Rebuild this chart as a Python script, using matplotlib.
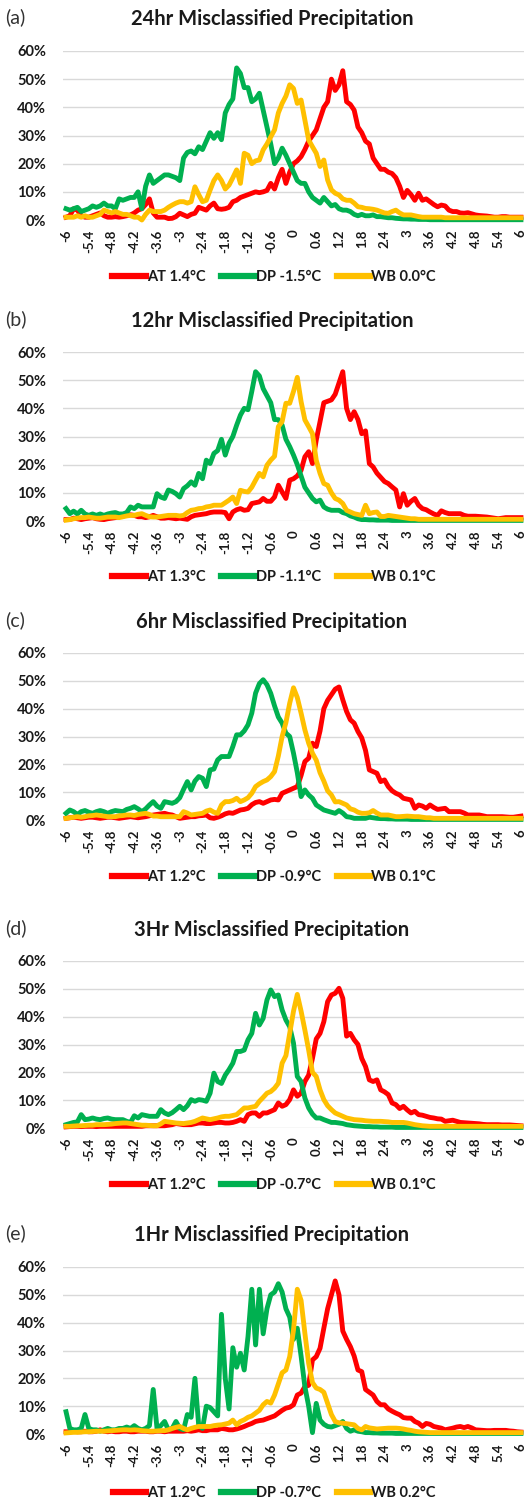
import matplotlib.pyplot as plt
import numpy as np
from matplotlib.lines import Line2D

plt.rcParams['font.family'] = ['Lato', 'DejaVu Sans']

# temperature error bins (deg C), one every 0.1 from -6 to 6
temps = np.round(np.arange(-60, 61) / 10, 1)
tick_vals = [-6, -5.4, -4.8, -4.2, -3.6, -3, -2.4, -1.8, -1.2, -0.6, 0,
             0.6, 1.2, 1.8, 2.4, 3, 3.6, 4.2, 4.8, 5.4, 6]
tick_labels = ['-6', '-5.4', '-4.8', '-4.2', '-3.6', '-3', '-2.4', '-1.8', '-1.2', '-0.6', '0',
               '0.6', '1.2', '1.8', '2.4', '3', '3.6', '4.2', '4.8', '5.4', '6']

panel_tags = ['(a)', '(b)', '(c)', '(d)', '(e)']
titles = ['24hr Misclassified Precipitation', '12hr Misclassified Precipitation',
          '6hr Misclassified Precipitation', '3Hr Misclassified Precipitation',
          '1Hr Misclassified Precipitation']
at_labels = ['AT 1.4°C', 'AT 1.3°C', 'AT 1.2°C', 'AT 1.2°C', 'AT 1.2°C']
dp_labels = ['DP -1.5°C', 'DP -1.1°C', 'DP -0.9°C', 'DP -0.7°C', 'DP -0.7°C']
wb_labels = ['WB 0.0°C', 'WB 0.1°C', 'WB 0.1°C', 'WB 0.1°C', 'WB 0.2°C']

# ---- (a) 24hr ----
at_24 = [1, 1.5, 4, 3.5, 1.5, 1, 1, 1.5, 2, 2.5,
         1.5, 1, 1, 1.2, 1, 1.2, 1.5, 1.8, 2.5, 3.5,
         4, 5.5, 7.5, 2.5, 1, 1, 1, 0.5, 0.6, 1.2,
         2.4, 1.8, 1.2, 2, 2.4, 4.5, 4, 3.5, 5, 6,
         4, 3.8, 4, 4.5, 6.5, 7, 8, 8.5, 9, 9.5,
         10, 9.7, 10, 10.5, 13, 11, 15, 18, 13, 17,
         20, 21, 22.5, 25, 28, 30, 32, 36, 40, 42,
         50, 46, 48, 53, 42, 41, 39, 33, 31, 28,
         27, 22, 20, 18, 18, 17, 16.5, 15, 12, 8,
         10.5, 9, 7, 9.5, 7, 7.5, 6.5, 5.5, 4.7, 5.3,
         5, 3.5, 3, 3, 2.5, 2.4, 2.6, 2.2, 1.8, 1.6,
         1.5, 1.4, 1.2, 1, 1, 1.2, 1.2, 1, 1, 1, 1]
dp_24 = [4, 3.5, 4, 4.5, 3, 3.5, 4, 5, 4.5, 5,
         6, 5, 5, 4, 7.5, 7, 7.5, 8, 8, 10,
         4, 12, 16, 13, 14, 15, 16, 16, 15.5, 15,
         14, 22, 24, 24.5, 23.5, 26, 25, 28, 31, 29,
         31, 28.5, 38, 41, 43, 54, 52, 47, 47, 42,
         43, 45, 39, 33, 27, 20, 22, 25.5, 23, 20,
         17, 14, 13, 13, 10, 8, 7, 6, 8, 6.5,
         5, 5.5, 4, 3.5, 3.5, 3, 2, 1.5, 2, 1.5,
         1.5, 1.8, 1.2, 1.2, 1, 0.8, 0.8, 0.6, 0.5, 0.4,
         0.4, 0.3, 0.3, 0.2, 0.2, 0.2, 0.1, 0.1, 0.1, 0.1,
         0.1, 0.1, 0.1, 0.1, 0.1, 0.1, 0.1, 0.1, 0.1, 0.1,
         0.1, 0.1, 0.1, 0.1, 0.1, 0.1, 0.1, 0.1, 0.1, 0.1, 0.1]
wb_24 = [1, 1, 1, 1.5, 1, 1.5, 1, 1, 1.5, 2,
         3.5, 3, 2.5, 3, 2.5, 2, 2, 1.5, 1, 1,
         0, 2, 3.5, 3, 3, 3, 3.5, 4.5, 5.3, 6,
         6.5, 6.5, 6, 6.5, 11.8, 9, 6.5, 7, 10.6, 14,
         16, 14, 11, 12.4, 15, 17.8, 13, 23.7, 23, 20,
         21, 21.3, 24.9, 27, 29.5, 32, 38, 41.4, 44, 48,
         46.7, 41.4, 42.6, 35.5, 28.4, 26, 23.7, 19, 21.3, 14.2,
         10.7, 9.5, 8.9, 7.5, 7, 7, 6, 4.7, 4.5, 4.1,
         4, 3.8, 3.5, 3, 2.5, 2.4, 3, 3.5, 2.5, 1.8,
         1.8, 1.8, 1.5, 1.2, 1, 1, 1, 1, 1, 1,
         0.8, 0.8, 0.8, 0.8, 0.8, 0.8, 0.8, 0.8, 0.8, 0.8,
         0.8, 0.8, 0.8, 0.8, 0.8, 0.8, 0.8, 0.8, 0.8, 0.8, 0.8]

# ---- (b) 12hr ----
at_12 = [0.5, 0.5, 1, 0.8, 0.5, 0.8, 1, 1.2, 0.8, 0.6,
         0.5, 0.8, 1, 1.2, 1.5, 1.8, 2, 2.2, 2, 1.5,
         1.5, 1.2, 1.5, 2, 1.5, 1, 1, 1.2, 1, 0.8,
         1, 0.8, 0.6, 1.5, 2, 2.2, 2.4, 2.6, 3, 3.2,
         3.2, 3.2, 3, 0.8, 3.2, 4, 4.4, 3.8, 4, 6.2,
         6.5, 6.8, 8, 7, 7, 8.5, 12.7, 10.3, 8, 14.5,
         15, 16, 18, 22.8, 24.6, 20.4, 28.7, 35.3, 42, 42.5,
         43, 45, 49, 53, 40, 36, 38.8, 36, 31, 32,
         20.4, 19.2, 17, 15.5, 14, 13.3, 12.1, 11, 5, 9.7,
         5.6, 7, 8, 5.6, 4.4, 4, 3.2, 2.5, 2, 3.6,
         3, 2.6, 2.6, 2.6, 2.6, 2, 1.7, 1.7, 1.7, 1.6,
         1.5, 1.4, 1.2, 1, 0.8, 1, 1.2, 1.2, 1.2, 1.2, 1.2]
dp_12 = [4.4, 2.6, 3.5, 2.5, 3.8, 2.5, 2, 2.5, 2, 2.5,
         2, 2.5, 2.8, 3, 2.5, 2.5, 3, 5, 4.4, 5.6,
         5, 5, 5, 5, 9.7, 8.5, 8, 11, 10.5, 9.7,
         8.5, 11.5, 12.5, 13.9, 12.7, 16.9, 15, 21.6, 20.4, 24,
         25, 29, 23.4, 27.6, 30, 34, 37.6, 40, 39.5, 46,
         53, 51.5, 47, 44.5, 42, 36, 36, 34, 29, 26.4,
         23.4, 20, 16, 12, 10, 8, 6.8, 7.4, 5, 4.2,
         3.8, 3.8, 3.8, 3, 2.6, 1.8, 1.4, 0.8, 0.5, 0.5,
         0.4, 0.4, 0.3, 0.3, 0.3, 0.3, 0.2, 0.2, 0.2, 0.2,
         0.2, 0.2, 0.2, 0.2, 0.2, 0.2, 0.2, 0.2, 0.2, 0.2,
         0.2, 0.2, 0.2, 0.2, 0.2, 0.2, 0.2, 0.2, 0.2, 0.2,
         0.2, 0.2, 0.2, 0.2, 0.2, 0.2, 0.2, 0.2, 0.2, 0.2, 0.2]
wb_12 = [0.3, 0.5, 0.8, 1, 1.2, 1.2, 1.4, 1.2, 1, 1,
         1.2, 1.4, 1.4, 1.4, 1.2, 1.5, 1.8, 2, 2, 2.4,
         2.6, 2, 1.5, 1.4, 1.4, 1.6, 1.8, 2, 2, 2,
         1.8, 2, 3, 3.8, 4, 4.4, 4.5, 5, 5.2, 5.6,
         5.6, 5.6, 6.5, 7.4, 8.5, 6.2, 10.9, 10.5, 10.3, 12,
         14.5, 16.9, 15.7, 19.8, 21.6, 23, 33.5, 35.3, 41.8, 41.8,
         46, 51, 42.4, 35.9, 33.5, 31, 21.6, 16.9, 13.3, 12.7,
         10, 8, 7.4, 6.2, 3.8, 3.2, 2.6, 2.3, 2, 5.6,
         2.6, 3, 3.2, 1.6, 1.6, 2, 1.8, 1.6, 1.4, 1.2,
         1, 0.8, 0.8, 0.6, 0.6, 0.6, 0.6, 0.6, 0.6, 0.6,
         0.6, 0.6, 0.6, 0.6, 0.6, 0.6, 0.6, 0.6, 0.6, 0.6,
         0.6, 0.6, 0.6, 0.6, 0.6, 0.6, 0.6, 0.6, 0.6, 0.6, 0.6]

# ---- (c) 6hr ----
at_6 = [0.6, 0.8, 1, 0.8, 0.6, 0.8, 1, 1, 0.8, 0.6,
        0.8, 1, 1, 0.8, 0.6, 0.8, 1, 1.2, 1, 0.8,
        1, 1.2, 1.5, 1.8, 2, 2.2, 2.4, 2, 1.8, 1.2,
        0.6, 0.8, 1, 1.2, 1.2, 1.5, 1.6, 1.8, 0.8, 0.6,
        1, 1.5, 2.2, 2.6, 2.4, 3, 3.6, 3.8, 4.2, 5.5,
        6.3, 6.6, 6, 6.6, 7.2, 7.4, 7.2, 9.6, 10.2, 10.8,
        11.4, 12, 16, 21, 22.2, 27.6, 26.4, 32, 40, 43,
        45, 47, 47.8, 43.2, 39, 36, 34.8, 31.8, 29.5, 25,
        18, 17.4, 16.8, 13.8, 14.4, 12, 10.5, 9.6, 9, 7.8,
        7.5, 7.2, 4.2, 5.4, 5, 4.2, 5.4, 4.5, 3.8, 4,
        4.2, 3, 3, 3, 3, 2.5, 1.8, 1.8, 1.8, 1.8,
        1.5, 1.2, 1.2, 1.2, 1.2, 1.2, 1.1, 1, 1, 1.2, 1.4]
dp_6 = [2.4, 3.6, 3, 2, 3, 3.4, 2.8, 2.4, 3, 3.4,
        3, 2.4, 3, 3.4, 3.2, 3, 3.8, 4.2, 4.8, 4,
        3, 4, 5.4, 6.6, 5, 4.2, 6.6, 6.3, 6, 6.6,
        8, 11, 13.8, 10.8, 14, 15.6, 15, 12, 18, 18.3,
        21.6, 22.8, 22.8, 22.8, 26.4, 30.6, 30.6, 32, 34.2, 38.4,
        45.6, 49, 50.4, 48.6, 45.5, 41, 37, 34.8, 31.2, 30,
        24, 17, 8.4, 10.8, 9, 7.8, 5.4, 4.5, 3.6, 3.2,
        2.8, 2.4, 3.4, 2.5, 1.2, 1, 0.6, 0.6, 0.6, 0.6,
        1, 0.8, 0.6, 0.5, 0.5, 0.4, 0.4, 0.3, 0.3, 0.3,
        0.3, 0.2, 0.2, 0.2, 0.2, 0.2, 0.2, 0.2, 0.2, 0.2,
        0.2, 0.2, 0.2, 0.2, 0.2, 0.2, 0.2, 0.2, 0.2, 0.2,
        0.2, 0.2, 0.2, 0.2, 0.2, 0.2, 0.2, 0.2, 0.2, 0.2, 0.2]
wb_6 = [0.6, 0.8, 1, 1.2, 1, 1.2, 1.5, 1.6, 1.8, 1.6,
        1.4, 1.2, 1.2, 1.2, 1.5, 1.6, 1.8, 1.8, 1.6, 2,
        2.2, 2.4, 2, 1.4, 1.4, 1.2, 1.2, 1.2, 1.2, 1.2,
        1.2, 3, 2.5, 1.8, 2, 2.2, 2.4, 3.2, 3.6, 2.8,
        2.4, 5.4, 6.6, 6.6, 7, 7.8, 6.6, 7.2, 8, 9.6,
        12, 13, 13.8, 14.4, 15.6, 17.4, 23, 30, 35, 42,
        47.5, 44, 38.4, 32.4, 27.6, 24, 21.5, 17, 14, 10.5,
        9, 6.5, 6.6, 6, 5.4, 4, 3.6, 2.8, 2.4, 2.4,
        2.6, 3.4, 2.5, 1.8, 1.8, 1.8, 1.5, 1.2, 1.2, 1.3,
        1.4, 1.3, 1.2, 1.2, 1, 0.8, 0.8, 0.6, 0.6, 0.6,
        0.6, 0.6, 0.6, 0.6, 0.6, 0.6, 0.6, 0.6, 0.6, 0.6,
        0.6, 0.6, 0.6, 0.6, 0.6, 0.6, 0.6, 0.6, 0.6, 0.6, 0.6]

# ---- (d) 3hr ----
at_3 = [0.4, 0.5, 0.6, 0.6, 0.5, 0.6, 0.6, 0.6, 0.5, 0.6,
        0.6, 0.6, 0.6, 0.6, 0.6, 0.6, 0.6, 0.6, 0.6, 0.6,
        0.6, 0.8, 0.8, 0.8, 0.8, 0.8, 0.8, 1, 1.2, 1.6,
        1.4, 1.2, 1.2, 1.2, 1.5, 1.8, 1.8, 1.6, 1.6, 1.8,
        2, 2, 1.8, 1.8, 2, 2.4, 3, 2.4, 4.8, 5.4,
        5.4, 4.2, 5.4, 5.4, 6, 6.6, 9, 7.8, 8.4, 10.2,
        13.7, 11.4, 12.5, 16.7, 19, 25, 32, 34, 38.2, 45.4,
        47.8, 48.4, 50.2, 46.6, 33, 34, 31.7, 30, 25, 22.1,
        17.3, 16.7, 17.3, 13.7, 13, 12, 9, 8.4, 7, 7.8,
        6.5, 5.4, 6, 4.8, 4.6, 4.2, 3.8, 3.6, 3.3, 3.2,
        2.4, 2.6, 2.8, 2.4, 2, 1.9, 1.8, 1.7, 1.6, 1.5,
        1.3, 1.2, 1.2, 1.2, 1.2, 1.1, 1.1, 1.1, 1, 0.9, 0.8]
dp_3 = [1.2, 1.6, 2, 2.2, 4.8, 3, 3.2, 3.6, 3.2, 3,
        3.4, 3.6, 3.2, 3, 3, 3, 2.4, 2, 4.4, 3.6,
        4.8, 4.5, 4.2, 4.2, 4.2, 6.6, 5.4, 4.8, 5.5, 6.6,
        7.8, 6.6, 8, 10.2, 9.6, 10.2, 10, 9.6, 12.5, 19.7,
        16.7, 16, 19, 21, 23.3, 27.5, 27.5, 28, 31.7, 34,
        41.2, 37, 39.4, 46, 49.6, 47.2, 47.8, 42.4, 38.8, 36.4,
        30.5, 18.5, 16.7, 10.8, 7.2, 5, 3.6, 3.6, 3, 2.5,
        2, 2, 1.8, 1.6, 1.2, 1, 0.8, 0.7, 0.6, 0.5,
        0.5, 0.4, 0.4, 0.3, 0.3, 0.3, 0.3, 0.2, 0.2, 0.2,
        0.2, 0.2, 0.2, 0.2, 0.2, 0.2, 0.2, 0.2, 0.2, 0.2,
        0.2, 0.2, 0.2, 0.2, 0.2, 0.2, 0.2, 0.2, 0.2, 0.2,
        0.2, 0.2, 0.2, 0.2, 0.2, 0.2, 0.2, 0.2, 0.2, 0.2, 0.2]
wb_3 = [0.6, 0.6, 0.7, 0.8, 0.8, 0.9, 1, 1, 1.2, 1.2,
        1.2, 1.3, 1.4, 1.6, 1.7, 1.8, 1.8, 1.6, 1.4, 1.2,
        1, 1, 0.9, 0.8, 0.8, 1.5, 2.4, 2.2, 2, 1.8,
        1.7, 1.6, 1.8, 2, 2.4, 3, 3.6, 3.3, 3, 3.3,
        3.6, 4, 4.2, 4.2, 4.5, 4.8, 6, 7.2, 7.2, 7.5,
        7.8, 9.6, 11, 12.5, 13.1, 14.3, 16.1, 23.3, 26, 34,
        42, 48, 42, 35.2, 28, 20, 18.5, 13.7, 10.2, 8,
        6.6, 5.4, 4.8, 4.2, 3.6, 3.3, 3, 2.9, 2.8, 2.6,
        2.5, 2.4, 2.4, 2.4, 2.3, 2.2, 2, 2, 2, 2,
        1.8, 1.5, 1.2, 1, 0.8, 0.7, 0.6, 0.6, 0.6, 0.6,
        0.6, 0.6, 0.6, 0.6, 0.6, 0.6, 0.6, 0.6, 0.6, 0.6,
        0.6, 0.6, 0.6, 0.6, 0.6, 0.6, 0.6, 0.6, 0.6, 0.6, 0.6]

# ---- (e) 1hr ----
at_1 = [0.8, 0.8, 1, 0.8, 0.8, 1, 0.8, 0.8, 1, 1.5,
        1, 0.8, 1, 0.8, 0.8, 1, 1, 0.8, 0.8, 1,
        1, 1, 0.8, 0.8, 1, 1, 0.8, 1, 1, 1,
        1, 1, 1.2, 1, 1.2, 1.5, 1.2, 1.2, 1.5, 1.5,
        1.5, 2, 1.8, 1.5, 1.5, 1.8, 2.2, 2.7, 3.3, 3.8,
        4.5, 4.8, 5, 5.5, 6, 6.5, 7.5, 8.5, 9.3, 9.6,
        10.5, 14, 14.7, 17, 17.5, 26.6, 27.8, 30.8, 38, 45,
        50, 55, 50, 37, 34, 31.4, 28, 23, 22.4, 16,
        15, 14, 11.7, 10.5, 10.5, 9, 8.2, 7.5, 6.9, 5.9,
        5.7, 5.7, 4.5, 3.9, 2.7, 3.8, 3.5, 2.7, 2.4, 2.1,
        1.5, 1.8, 2.1, 2.5, 2.7, 2.3, 2.7, 2.2, 1.5, 1.4,
        1.3, 1.2, 1.2, 1.3, 1.3, 1.3, 1.3, 1.1, 1, 0.8, 0.7]
dp_1 = [8, 2, 1.5, 1.5, 2, 7, 2, 1.5, 1.5, 1,
        1.5, 2, 1.5, 1.5, 2, 2, 2.5, 2, 3, 2,
        1.5, 2, 3, 16, 2, 3, 4.5, 1.5, 2, 4.5,
        2, 1.5, 7, 6, 20, 3, 2, 10, 9.5, 8,
        6.5, 43, 20, 9, 31, 24, 29, 23, 35, 52,
        32, 52, 36, 45, 50, 51, 54, 51, 45, 42,
        34, 38, 28, 17, 10, 0.5, 11, 5, 3.5, 2.7,
        2.5, 3, 3.5, 4.5, 2, 1, 1.5, 1, 0.8, 0.5,
        0.5, 0.4, 0.4, 0.3, 0.3, 0.3, 0.3, 0.2, 0.2, 0.2,
        0.2, 0.2, 0.2, 0.2, 0.2, 0.2, 0.2, 0.2, 0.2, 0.2,
        0.2, 0.2, 0.2, 0.2, 0.2, 0.2, 0.2, 0.2, 0.2, 0.2,
        0.2, 0.2, 0.2, 0.2, 0.2, 0.2, 0.2, 0.2, 0.2, 0.2, 0.2]
wb_1 = [0.4, 0.5, 0.6, 0.6, 0.7, 0.8, 0.8, 0.9, 1, 1,
        1, 1.1, 1.2, 1.3, 1.4, 1.5, 1.5, 1.4, 1.5, 1.4,
        1.2, 1.1, 1, 1, 1.1, 1.2, 1.2, 1.5, 2, 2.4,
        2.7, 2, 1.5, 2, 2.4, 2.7, 2.7, 2.7, 2.7, 3,
        3.2, 3.3, 3.6, 3.9, 5, 3.3, 4.5, 5.1, 6, 6.5,
        7.5, 8.5, 10.5, 11.7, 11.1, 14, 18, 22, 23, 27.8,
        37.4, 52, 48, 36.2, 25.4, 18.5, 16.5, 16, 15, 11,
        7, 4.5, 4, 3.9, 3.7, 3.5, 3.3, 2, 1.5, 2.7,
        2.2, 2, 1.8, 1.9, 2, 2.1, 2.1, 2.1, 2, 1.8,
        1.5, 1.3, 1, 0.8, 0.7, 0.6, 0.5, 0.5, 0.5, 0.5,
        0.5, 0.5, 0.5, 0.5, 0.5, 0.5, 0.5, 0.5, 0.5, 0.5,
        0.5, 0.5, 0.5, 0.5, 0.5, 0.5, 0.5, 0.5, 0.5, 0.5, 0.5]

at_series = [at_24, at_12, at_6, at_3, at_1]
dp_series = [dp_24, dp_12, dp_6, dp_3, dp_1]
wb_series = [wb_24, wb_12, wb_6, wb_3, wb_1]

RED, GREEN, GOLD = '#FF0000', '#00B050', '#FFC000'
TXT = '#1a1a1a'

W, H = 524, 1503
# pixel layout per panel: (y of 60% line, y of 0% line, title y, legend y)
layout = [(51, 220, 19, 277),
          (352, 521, 321, 577),
          (653, 820, 622, 877),
          (961, 1128, 930, 1185),
          (1267, 1434, 1235, 1493)]

fig = plt.figure(figsize=(W / 100, H / 100), dpi=100)
fig.patch.set_facecolor('white')

for k in range(5):
    top, bot, ty, ly = layout[k]
    ax = fig.add_axes([63 / W, 1 - bot / H, (W - 63) / W, (bot - top) / H])
    for ys, col in [(at_series[k], RED), (dp_series[k], GREEN), (wb_series[k], GOLD)]:
        ax.plot(temps, ys, color=col, lw=3.5, clip_on=False, solid_joinstyle='round')
    ax.set_xlim(-6.08, 6.08)
    ax.set_ylim(0, 60)
    ax.set_yticks([0, 10, 20, 30, 40, 50, 60])
    ax.set_yticklabels(['0%', '10%', '20%', '30%', '40%', '50%', '60%'])
    ax.set_xticks(tick_vals)
    ax.set_xticklabels(tick_labels, rotation=90)
    ax.tick_params(axis='y', length=0, pad=12, labelsize=10.5, labelcolor=TXT)
    ax.tick_params(axis='x', length=0, pad=7, labelsize=9.5, labelcolor=TXT)
    for t in ax.get_xticklabels() + ax.get_yticklabels():
        t.set_fontweight('bold')
    ax.yaxis.grid(True, color='#D9D9D9', lw=1.0)
    ax.set_axisbelow(True)
    for s in ax.spines.values():
        s.set_visible(False)

    fig.text(272 / W, 1 - ty / H, titles[k], ha='center', va='center',
             fontsize=14.5, fontweight='bold', color=TXT)
    fig.text(5 / W, 1 - (ty - 2) / H, panel_tags[k], ha='left', va='center',
             fontsize=14, color='#333333')

    handles = [Line2D([], [], color=RED, lw=4.5),
               Line2D([], [], color=GREEN, lw=4.5),
               Line2D([], [], color=GOLD, lw=4.5)]
    ax.legend(handles, [at_labels[k], dp_labels[k], wb_labels[k]],
              loc='center', bbox_to_anchor=(274 / W, 1 - ly / H),
              bbox_transform=fig.transFigure, ncol=3, frameon=False,
              handlelength=2.3, handletextpad=0.05, columnspacing=1.1,
              prop={'weight': 'bold', 'size': 10.5}, labelcolor=TXT)

fig.savefig('out.png', dpi=100, facecolor='white')
